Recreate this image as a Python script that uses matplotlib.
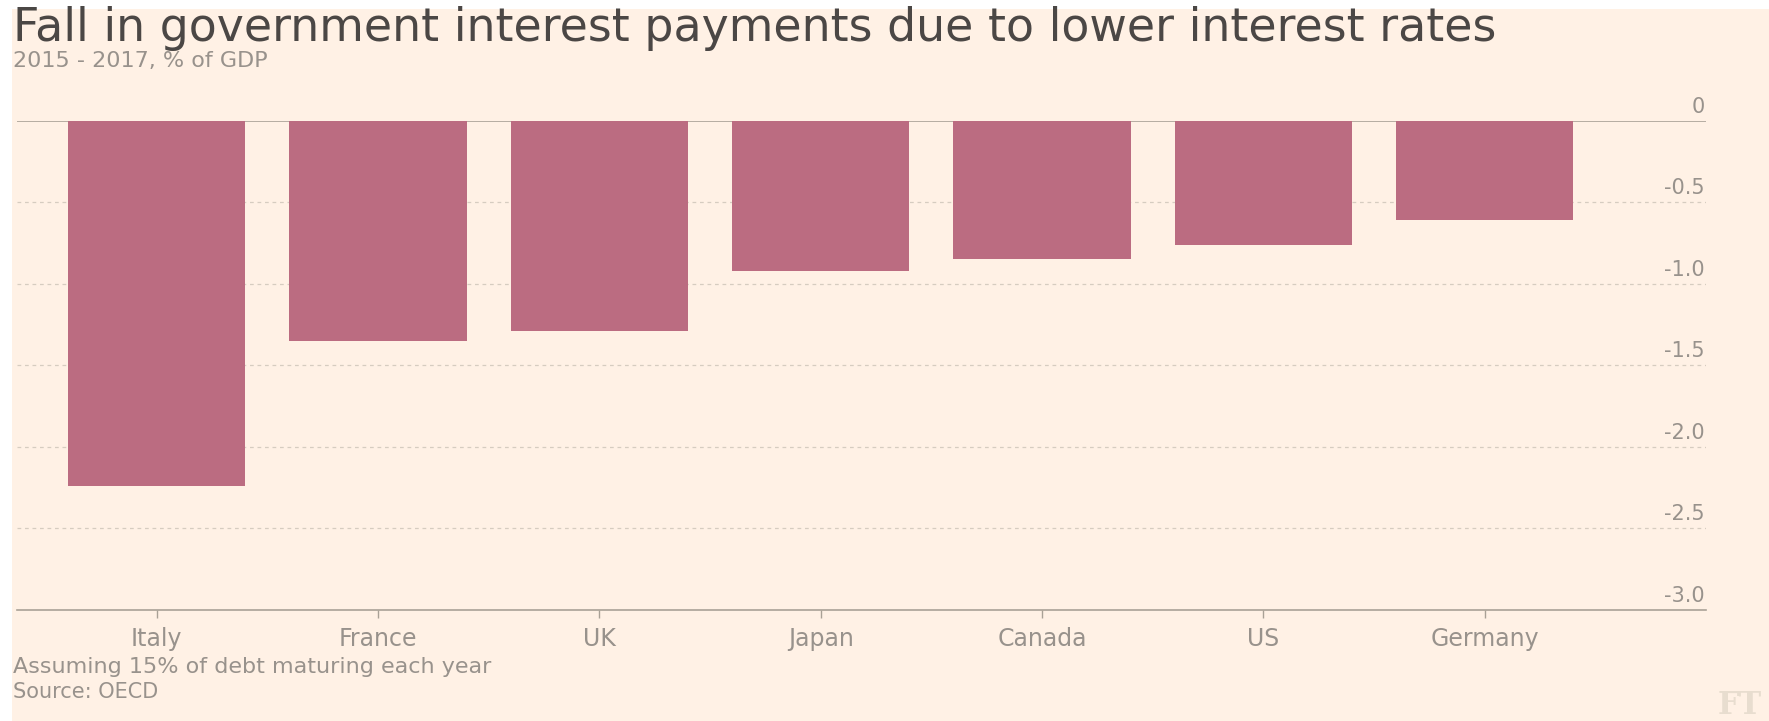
import matplotlib
matplotlib.use('Agg')
import matplotlib.pyplot as plt
from matplotlib.patches import Rectangle
from matplotlib.transforms import offset_copy

# fall in interest payments, 2015-2017, % of GDP
countries = ['Italy', 'France', 'UK', 'Japan', 'Canada', 'US', 'Germany']
fall_pct_gdp = [-2.24, -1.35, -1.29, -0.92, -0.85, -0.76, -0.61]

y_ticks = [0, -0.5, -1.0, -1.5, -2.0, -2.5, -3.0]
y_tick_labels = ['0', '-0.5', '-1.0', '-1.5', '-2.0', '-2.5', '-3.0']

title = 'Fall in government interest payments due to lower interest rates'
subtitle = '2015 - 2017, % of GDP'
note = 'Assuming 15% of debt maturing each year'
source = 'Source: OECD'

W, H = 1769, 721
BG = '#fff1e5'
BAR = '#bb6c81'
AXIS = '#a9a196'
GRID = '#d6ccc0'
TEXT_DARK = '#4b4745'
TEXT_GREY = '#98928c'


def px(x, y):
    # pixel position (from top-left) -> figure fraction
    return x / W, 1 - y / H


def main():
    plt.rcParams['font.family'] = ['DejaVu Sans']

    fig = plt.figure(figsize=(W / 100, H / 100), dpi=100, facecolor='white')
    # cream paper background, thin white strip on the top and left
    fig.patches.append(Rectangle((12 / W, 0), 1, 1 - 9 / H, transform=fig.transFigure,
                                 facecolor=BG, edgecolor='none', zorder=-10))

    left, right = 17, 1706
    top, bottom = 121, 609.5
    ax = fig.add_axes([left / W, 1 - bottom / H, (right - left) / W, (bottom - top) / H])
    ax.set_facecolor('none')
    ax.set_zorder(1)

    x = list(range(len(countries)))
    ax.bar(x, fall_pct_gdp, width=0.8, color=BAR, zorder=2)

    ax.set_xlim(-0.631, 7.0)
    ax.set_ylim(-3.0, 0)

    # dashed gridlines, solid zero line and baseline
    for v in y_ticks[1:-1]:
        ax.axhline(v, color=GRID, lw=0.9, ls=(0, (3, 3)), zorder=1)
    ax.axhline(0, color=AXIS, lw=1.2, zorder=1)

    for side in ['top', 'left', 'right']:
        ax.spines[side].set_visible(False)
    ax.spines['bottom'].set_color(AXIS)
    ax.spines['bottom'].set_linewidth(1.2)

    ax.set_xticks(x)
    ax.set_xticklabels(countries, fontsize=17, color=TEXT_GREY)
    ax.tick_params(axis='x', length=6, width=1, color=AXIS, pad=6.8)
    ax.set_yticks([])

    # value labels sit just above their gridline on the right
    lab_tr = offset_copy(ax.get_yaxis_transform(), fig=fig, x=-1, y=8, units='dots')
    for v, lab in zip(y_ticks, y_tick_labels):
        ax.text(1.0, v, lab, transform=lab_tr, ha='right', va='baseline',
                fontsize=15, color=TEXT_GREY)

    fig.text(*px(12.7, 41), title, fontsize=33, color=TEXT_DARK, va='baseline')
    fig.text(*px(12.7, 67), subtitle, fontsize=16, color=TEXT_GREY, va='baseline')
    fig.text(*px(12.7, 673), note, fontsize=16, color=TEXT_GREY, va='baseline')
    fig.text(*px(12.7, 698), source, fontsize=15, color=TEXT_GREY, va='baseline')
    fig.text(*px(1762, 714), 'FT', fontsize=22, color='#e8ddcf', family='DejaVu Serif',
             weight='bold', ha='right', va='baseline')

    fig.savefig('out.png', dpi=100, facecolor=fig.get_facecolor())
    plt.close(fig)


if __name__ == '__main__':
    main()
